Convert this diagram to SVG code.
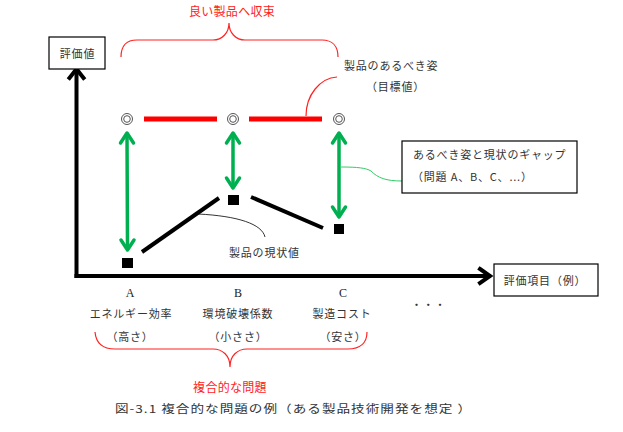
<svg xmlns="http://www.w3.org/2000/svg" width="623" height="432" viewBox="0 0 623 432">
<defs>
<style>
.t{font-family:"Noto Sans CJK JP","Noto Sans",sans-serif;fill:#333;font-size:11px;letter-spacing:0.8px}
.r{fill:#f22;font-size:12px;letter-spacing:0.3px}
.c{text-anchor:middle}
.lat{font-family:"Liberation Serif",serif;font-size:12px;fill:#222}
.box{fill:#fff;stroke:#000;stroke-width:1.2}
.axis{fill:none;stroke:#000;stroke-width:4;stroke-linecap:square}
.ga{fill:none;stroke:#00b050;stroke-width:3.5;stroke-linecap:round;stroke-linejoin:round}
.rl{stroke:#f00;stroke-width:5}
.bl{stroke:#000;stroke-width:4}
.rb{fill:none;stroke:#f22;stroke-width:1.2}
.thin{fill:none;stroke:#000;stroke-width:0.8}
.dc{fill:none;stroke:#555;stroke-width:1}
</style>
</defs>
<rect width="623" height="432" fill="#fff"/>

<g id="connectors">
<!-- axes -->
<line class="axis" x1="76.5" y1="70" x2="76.5" y2="276"/>
<polyline class="axis" points="69.5,78 76.5,69 83.5,78" stroke-linecap="butt" stroke-linejoin="miter"/>
<line class="axis" x1="76.5" y1="276" x2="489" y2="276"/>
<polyline class="axis" points="480,269 490,276 480,283" stroke-linecap="butt" stroke-linejoin="miter"/>
<!-- red target line -->
<line class="rl" x1="144" y1="119" x2="217" y2="119"/>
<line class="rl" x1="249" y1="119" x2="322" y2="119"/>
<!-- black current lines -->
<line class="bl" x1="142" y1="252" x2="219" y2="198"/>
<line class="bl" x1="251" y1="197" x2="323" y2="228"/>
<!-- green gap arrows -->
<g class="ga">
<line x1="127" y1="134" x2="127.5" y2="249"/>
<polyline points="120.5,143 127,133 133.5,143"/>
<polyline points="121,240 127.5,250 134,240"/>
<line x1="233" y1="134" x2="233" y2="186"/>
<polyline points="226.5,143 233,133 239.5,143"/>
<polyline points="226.5,178 233,188 239.5,178"/>
<line x1="339" y1="134" x2="339" y2="215"/>
<polyline points="332.5,143 339,133 345.5,143"/>
<polyline points="332.5,207 339,217 345.5,207"/>
</g>
<!-- callouts -->
<path class="rb" d="M306,116 C306,95 320,78 337,77"/>
<path class="thin" d="M198,214 C238,216 262,224 265,237"/>
<path fill="none" stroke="#3c6" stroke-width="1" d="M341,167 C358,167 366,168 371,171 C378,178 386,181 402,181"/>
<!-- braces -->
<path class="rb" d="M121,57 C121,45 127,40 137,40 L213,40 C222,40 229,33 229,23 C229,33 236,40 245,40 L322,40 C332,40 338,46 338,57"/>
<path class="rb" d="M95,332 C96,343 103,349 115,349 L213,349 C222,349 230,355 230,367 C230,355 238,349 247,349 L348,349 C360,349 367,343 367,332"/>
</g>

<g id="node-y-label">
<rect class="box" x="49" y="37" width="56" height="32"/>
<text class="t c" x="77.5" y="57.5" font-size="11.5">評価値</text>
</g>

<g id="node-x-label">
<rect class="box" x="494" y="264" width="104" height="32"/>
<text class="t c" x="545" y="285" font-size="12">評価項目（例）</text>
</g>

<g id="node-gap-box">
<rect class="box" x="402" y="141" width="175" height="52"/>
<text class="t" x="413" y="159">あるべき姿と現状のギャップ</text>
<text class="t" x="412" y="181">（問題 A、B、C、...）</text>
</g>

<g id="node-targets">
<circle class="dc" cx="127" cy="119" r="5.5"/><circle class="dc" cx="127" cy="119" r="3.3"/>
<circle class="dc" cx="233" cy="119" r="5.5"/><circle class="dc" cx="233" cy="119" r="3.3"/>
<circle class="dc" cx="339" cy="119" r="5.5"/><circle class="dc" cx="339" cy="119" r="3.3"/>
</g>

<g id="node-current">
<rect x="122" y="258" width="11" height="10" fill="#000"/>
<rect x="228" y="195" width="11" height="10" fill="#000"/>
<rect x="334" y="224" width="10" height="10" fill="#000"/>
</g>

<g id="node-target-label">
<text class="t" x="344" y="70">製品のあるべき姿</text>
<text class="t" x="366" y="91">（目標値）</text>
</g>

<g id="node-current-label">
<text class="t" x="229" y="257" font-size="11.5" letter-spacing="0.5">製品の現状値</text>
</g>

<g id="node-title">
<text class="t r c" x="232" y="16">良い製品へ収束</text>
</g>

<g id="node-A">
<text class="lat c" x="130" y="297">A</text>
<text class="t c" x="131" y="318">エネルギー効率</text>
<text class="t c" x="130" y="341">（高さ）</text>
</g>

<g id="node-B">
<text class="lat c" x="238" y="297">B</text>
<text class="t c" x="238" y="318">環境破壊係数</text>
<text class="t c" x="238" y="341">（小ささ）</text>
</g>

<g id="node-C">
<text class="lat c" x="343" y="297">C</text>
<text class="t c" x="342" y="318">製造コスト</text>
<text class="t c" x="343" y="341">（安さ）</text>
</g>

<g id="node-dots">
<text class="t" x="411" y="309" font-size="12.5" letter-spacing="0">・・・</text>
</g>

<g id="node-problem">
<text class="t r c" x="230" y="392">複合的な問題</text>
</g>

<g id="caption">
<text class="t" x="115" y="413" font-size="15" letter-spacing="0" textLength="357" lengthAdjust="spacingAndGlyphs">図-3.1 複合的な問題の例（ある製品技術開発を想定 ）</text>
</g>
</svg>
